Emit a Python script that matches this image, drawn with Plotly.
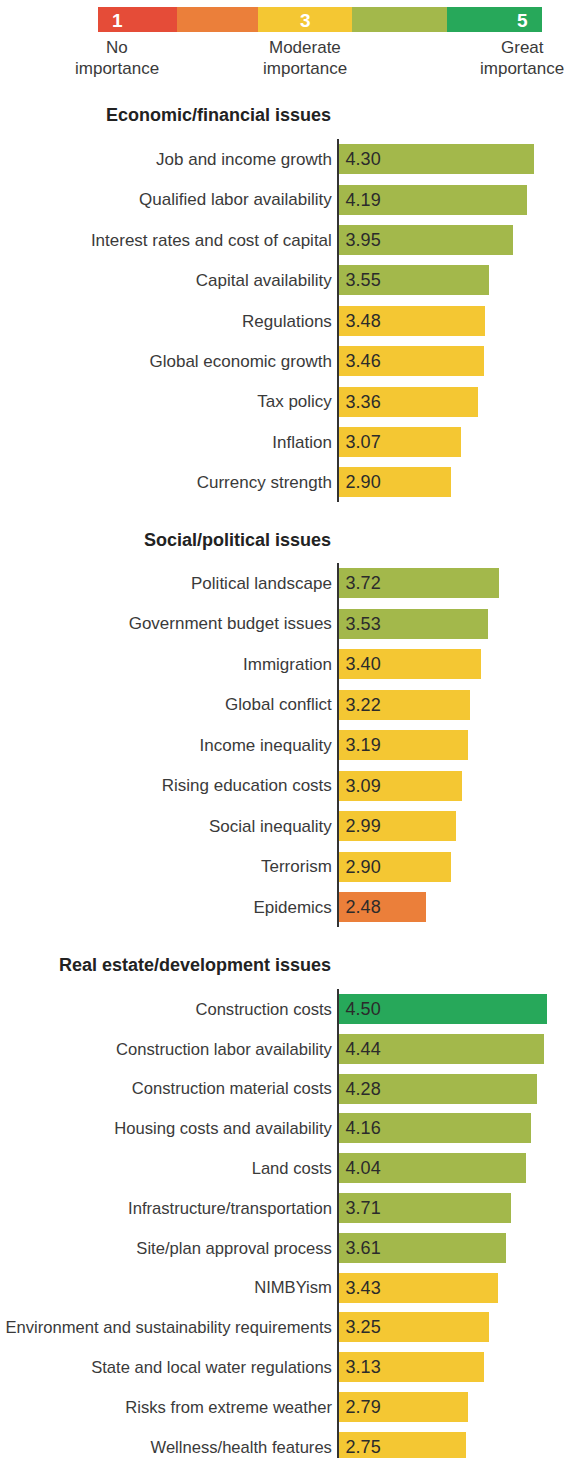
import math
import plotly.graph_objects as go

# ---------------- data ----------------
scale_numbers = ["1", "2", "3", "4", "5"]
scale_colors = ["#e54c38", "#eb7f3a", "#f4c733", "#a3b84b", "#27a85a"]
scale_labels = {"1": ["No", "importance"], "3": ["Moderate", "importance"], "5": ["Great", "importance"]}

section_titles = ["Economic/financial issues", "Social/political issues", "Real estate/development issues"]

econ_labels = ["Job and income growth", "Qualified labor availability", "Interest rates and cost of capital",
               "Capital availability", "Regulations", "Global economic growth", "Tax policy", "Inflation",
               "Currency strength"]
econ_values = [4.30, 4.19, 3.95, 3.55, 3.48, 3.46, 3.36, 3.07, 2.90]

social_labels = ["Political landscape", "Government budget issues", "Immigration", "Global conflict",
                 "Income inequality", "Rising education costs", "Social inequality", "Terrorism", "Epidemics"]
social_values = [3.72, 3.53, 3.40, 3.22, 3.19, 3.09, 2.99, 2.90, 2.48]

re_labels = ["Construction costs", "Construction labor availability", "Construction material costs",
             "Housing costs and availability", "Land costs", "Infrastructure/transportation",
             "Site/plan approval process", "NIMBYism", "Environment and sustainability requirements",
             "State and local water regulations", "Risks from extreme weather", "Wellness/health features"]
re_values = [4.50, 4.44, 4.28, 4.16, 4.04, 3.71, 3.61, 3.43, 3.25, 3.13, 2.79, 2.75]

# ---------------- layout helpers ----------------
W, H = 564, 1458
AXIS_X = 339

def py(px):
    return 1 - px / H

def pxx(px):
    return px / W

FONT = "Liberation Sans, Arial, sans-serif"
TXT = "#3a3a3a"

def color_for(v):
    return scale_colors[int(math.floor(v + 0.5)) - 1]

# (labels, values, first-row centre px, row pitch px, header px, axis start value, px per unit, tick font size)
sections = [
    (econ_labels, econ_values, 159.0, 40.4, 115, 1.0, 59.0, 17),
    (social_labels, social_values, 583.0, 40.5, 540, 1.0, 59.0, 17),
    (re_labels, re_values, 1009.0, 39.8, 965, 0.0, 46.25, 16.6),
]

fig = go.Figure()
annotations = []
shapes = []

for k, (labels, values, c0, pitch, head_y, x0, ppu, tfs) in enumerate(sections):
    n = len(labels)
    top_px = c0 - pitch / 2
    bot_px = min(c0 + (n - 1) * pitch + pitch / 2, H)
    r_bottom = (bot_px - c0) / pitch
    xa = "x" if k == 0 else f"x{k+1}"
    ya = "y" if k == 0 else f"y{k+1}"
    fig.add_trace(go.Bar(
        y=labels, x=[v - x0 for v in values], base=x0, orientation="h",
        marker=dict(color=[color_for(v) for v in values], line=dict(width=0)),
        width=30 / pitch,
        text=["\u2009" + f"{v:.2f}" for v in values], textposition="inside", insidetextanchor="start",
        textfont=dict(family=FONT, size=18, color="#2b2b2b"),
        cliponaxis=False,
        xaxis=xa, yaxis=ya, showlegend=False, hoverinfo="skip",
    ))
    xkey = "xaxis" if k == 0 else f"xaxis{k+1}"
    ykey = "yaxis" if k == 0 else f"yaxis{k+1}"
    fig.layout[xkey] = dict(domain=[pxx(AXIS_X), 1], range=[x0, x0 + (W - AXIS_X) / ppu],
                            visible=False, anchor=ya, fixedrange=True, automargin=False)
    fig.layout[ykey] = dict(domain=[py(bot_px), py(top_px)], type="category",
                            categoryorder="array", categoryarray=labels,
                            range=[r_bottom, -0.5], anchor=xa, automargin=False,
                            showline=True, linecolor="#333333", linewidth=1.5,
                            showgrid=False, zeroline=False, ticks="", ticklen=0,
                            ticklabelstandoff=2, fixedrange=True,
                            tickfont=dict(family=FONT, size=tfs, color=TXT))
    annotations.append(dict(xref="paper", yref="paper", x=pxx(333), y=py(head_y),
                            xanchor="right", yanchor="middle", showarrow=False,
                            text=f"<b>{section_titles[k]}</b>",
                            font=dict(family=FONT, size=18, color="#222222")))

# legend color scale
edges = [98, 177, 258, 352, 447, 542]
for i, num in enumerate(scale_numbers):
    shapes.append(dict(type="rect", xref="paper", yref="paper",
                       x0=pxx(edges[i]), x1=pxx(edges[i + 1]), y0=py(32), y1=py(7),
                       fillcolor=scale_colors[i], line=dict(width=0)))
centers = {"1": 117, "3": 305, "5": 522}
for num, cx in centers.items():
    annotations.append(dict(xref="paper", yref="paper", x=pxx(cx), y=py(20), xanchor="center",
                            yanchor="middle", showarrow=False, text=f"<b>{num}</b>",
                            font=dict(family=FONT, size=19, color="white")))
    l1, l2 = scale_labels[num]
    annotations.append(dict(xref="paper", yref="paper", x=pxx(cx), y=py(48), xanchor="center",
                            yanchor="middle", showarrow=False, text=l1,
                            font=dict(family=FONT, size=17, color=TXT)))
    annotations.append(dict(xref="paper", yref="paper", x=pxx(cx), y=py(69), xanchor="center",
                            yanchor="middle", showarrow=False, text=l2,
                            font=dict(family=FONT, size=17, color=TXT)))

fig.update_layout(width=W, height=H, margin=dict(l=0, r=0, t=0, b=0, autoexpand=False),
                  paper_bgcolor="white", plot_bgcolor="white",
                  annotations=annotations, shapes=shapes, bargap=0,
                  uniformtext=dict(mode=False))

fig.write_html("out.html", config={"displayModeBar": False},
               post_script="document.body.style.margin='0';document.body.style.padding='0';")
